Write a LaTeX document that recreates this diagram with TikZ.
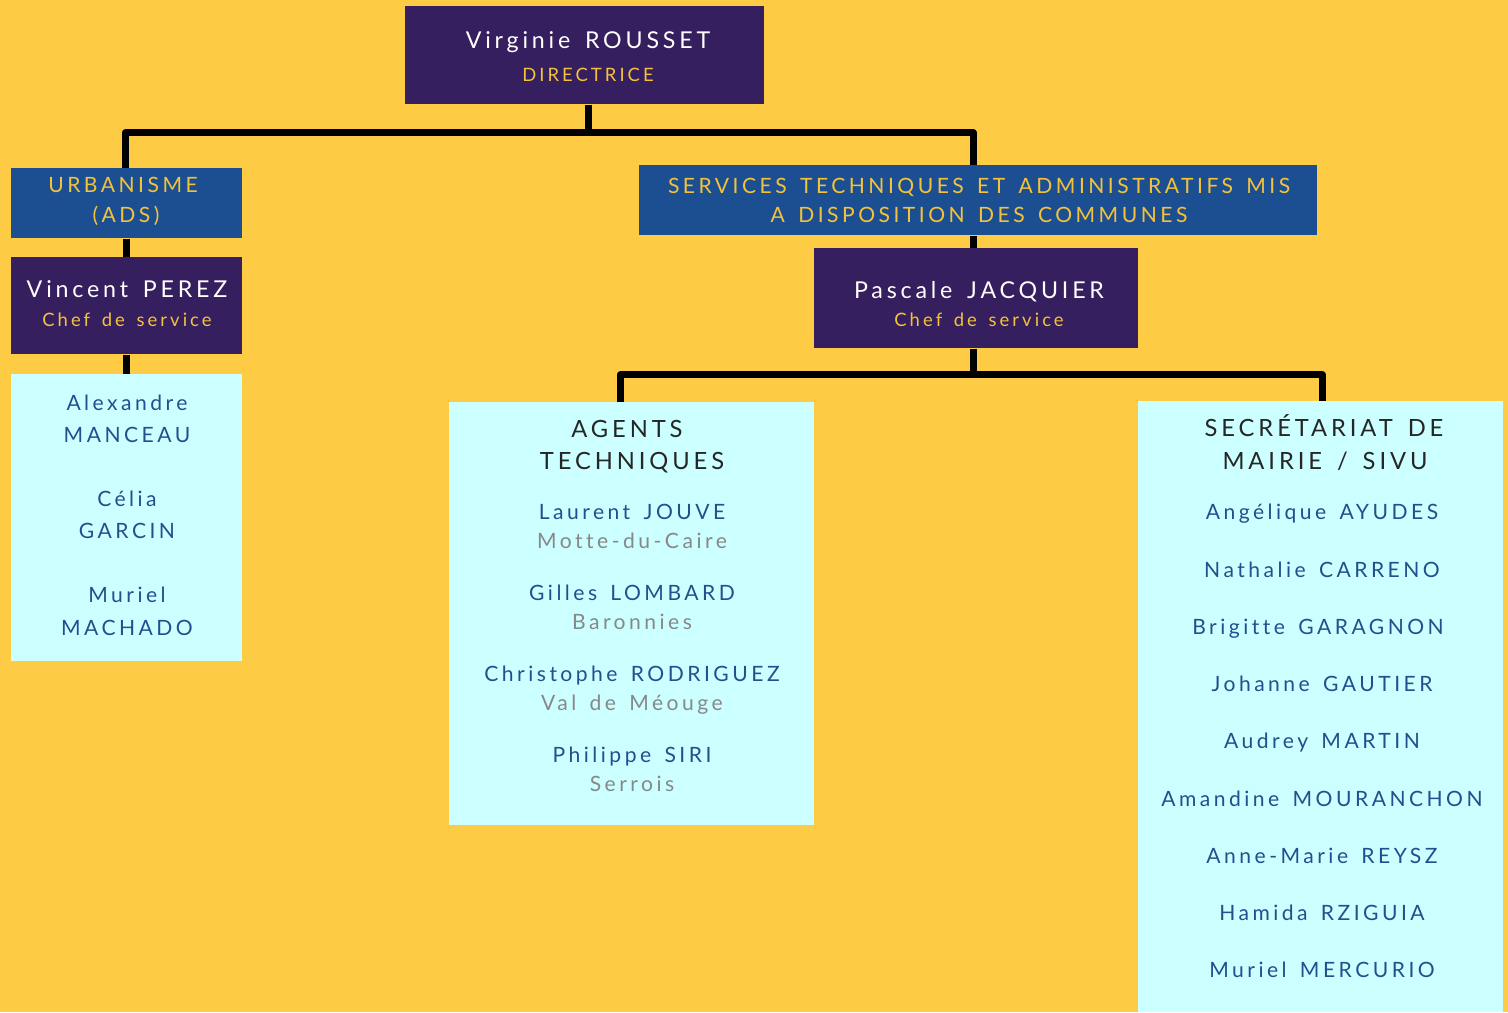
\documentclass[tikz,border=0pt]{standalone}
\usepackage{fontspec}
\setmainfont{Lato}[LetterSpace=16.5, WordSpace=1.5, Ligatures=NoCommon]
\usepackage{tikz}
\usetikzlibrary{positioning}
\definecolor{orgfond}{HTML}{FECB45}
\definecolor{orgviolet}{HTML}{361F5E}
\definecolor{orgbleu}{HTML}{1C4F92}
\definecolor{orgcyan}{HTML}{CCFFFF}
\definecolor{orgjaune}{HTML}{F4C23A}
\definecolor{orgnom}{HTML}{22508F}
\definecolor{orggris}{HTML}{888888}
\definecolor{orgnoir}{HTML}{262626}

\tikzset{
	chefbox/.style={fill=orgviolet, anchor=north west, inner sep=0pt},
	servbox/.style={fill=orgbleu, anchor=north west, inner sep=0pt},
	listbox/.style={fill=orgcyan, anchor=north west, inner sep=0pt},
	link/.style={line width=4pt, line join=round},
	nomchef/.style={text=white, font=\fontsize{13.2}{16}\selectfont, anchor=base, inner sep=0pt},
	rolechef/.style={text=orgjaune, font=\fontsize{10.5}{13}\selectfont, anchor=base, inner sep=0pt},
	titreserv/.style={text=orgjaune, font=\fontsize{12}{15}\selectfont, anchor=base, inner sep=0pt},
	titreliste/.style={text=orgnoir, font=\fontsize{13.5}{16}\selectfont, anchor=base, inner sep=0pt},
	agent/.style={text=orgnom, font=\fontsize{12}{14}\selectfont, anchor=base, inner sep=0pt},
	commune/.style={text=orggris, font=\fontsize{12}{14}\selectfont, anchor=base, inner sep=0pt},
}

\begin{document}
\begin{tikzpicture}[x=0.02cm, y=-0.02cm]
	\fill[orgfond] (0,0) rectangle (1508,1012);
	
	% boites
	\node[chefbox, minimum width=7.18cm, minimum height=1.96cm] (rousset) at (405,6) {};
	\node[servbox, minimum width=4.62cm, minimum height=1.40cm] (urba) at (11,168) {};
	\node[chefbox, minimum width=4.62cm, minimum height=1.94cm] (perez) at (11,257) {};
	\node[listbox, minimum width=4.62cm, minimum height=5.74cm] (listeurba) at (11,374) {};
	\node[servbox, minimum width=13.56cm, minimum height=1.40cm] (serv) at (639,165) {};
	\node[chefbox, minimum width=6.48cm, minimum height=2.00cm] (jacquier) at (814,248) {};
	\node[listbox, minimum width=7.30cm, minimum height=8.46cm] (agents) at (449,402) {};
	\node[listbox, minimum width=7.30cm, minimum height=12.22cm] (secretariat) at (1138,401) {};
	
	% liaisons
	\draw[link] ([xshift=0.07cm]rousset.south) -- ++(0,28) -| ([xshift=-0.03cm]urba.north);
	\draw[link] ([xshift=0.07cm]rousset.south) ++(0,28) -| ([xshift=-0.1cm]serv.north);
	\draw[link] (urba) -- (perez);
	\draw[link] (perez) -- (listeurba);
	\draw[link] ([xshift=-0.06cm]jacquier.north) -- ([xshift=-0.06cm]jacquier.north |- serv.south);
	\draw[link] ([xshift=-0.06cm]jacquier.south) -- ++(0,26) -| ([xshift=-0.23cm]agents.north);
	\draw[link] ([xshift=-0.06cm]jacquier.south) ++(0,26) -| ([xshift=0.03cm]secretariat.north);
	
	% direction
	\node[nomchef] (roussetnom) at (588,48) {Virginie ROUSSET};
	\node[rolechef] (roussetrole) at (588,81) {DIRECTRICE};
	
	% urbanisme
	\node[titreserv] (urbatitre) at (123,192) {URBANISME};
	\node[titreserv] (urbaads) at (126,222) {(ADS)};
	\node[nomchef] (pereznom) at (127,297) {Vincent PEREZ};
	\node[rolechef] (perezrole) at (127,326) {Chef de service};
	\node[agent] (manceau1) at (127,410) {Alexandre};
	\node[agent] (manceau2) at (127,442) {MANCEAU};
	\node[agent] (garcin1) at (127,506) {Célia};
	\node[agent] (garcin2) at (127,538) {GARCIN};
	\node[agent] (machado1) at (127,602) {Muriel};
	\node[agent] (machado2) at (127,635) {MACHADO};
	
	% services mis a disposition
	\node[titreserv] (servtitre1) at (979,193) {SERVICES TECHNIQUES ET ADMINISTRATIFS MIS};
	\node[titreserv] (servtitre2) at (979,222) {A DISPOSITION DES COMMUNES};
	\node[nomchef] (jacquiernom) at (979,298) {Pascale JACQUIER};
	\node[rolechef] (jacquierrole) at (979,326) {Chef de service};
	
	% agents techniques
	\node[titreliste] (agentstitre1) at (627,437) {AGENTS};
	\node[titreliste] (agentstitre2) at (632,469) {TECHNIQUES};
	\node[agent] (jouve) at (632,519) {Laurent JOUVE};
	\node[commune] (jouvecom) at (632,548) {Motte-du-Caire};
	\node[agent] (lombard) at (632,600) {Gilles LOMBARD};
	\node[commune] (lombardcom) at (632,629) {Baronnies};
	\node[agent] (rodriguez) at (632,681) {Christophe RODRIGUEZ};
	\node[commune] (rodriguezcom) at (632,710) {Val de Méouge};
	\node[agent] (siri) at (632,762) {Philippe SIRI};
	\node[commune] (siricom) at (632,791) {Serrois};
	
	% secretariat de mairie
	\node[titreliste] (secrtitre1) at (1324,436) {SECRÉTARIAT DE};
	\node[titreliste] (secrtitre2) at (1325,469) {MAIRIE / SIVU};
	\node[agent] (ayudes) at (1322,519) {Angélique AYUDES};
	\node[agent] (carreno) at (1322,577) {Nathalie CARRENO};
	\node[agent] (garagnon) at (1318,634) {Brigitte GARAGNON};
	\node[agent] (gautier) at (1322,691) {Johanne GAUTIER};
	\node[agent] (martin) at (1322,748) {Audrey MARTIN};
	\node[agent] (mouranchon) at (1322,806) {Amandine MOURANCHON};
	\node[agent] (reysz) at (1322,863) {Anne-Marie REYSZ};
	\node[agent] (rziguia) at (1322,920) {Hamida RZIGUIA};
	\node[agent] (mercurio) at (1322,977) {Muriel MERCURIO};
\end{tikzpicture}
\end{document}
